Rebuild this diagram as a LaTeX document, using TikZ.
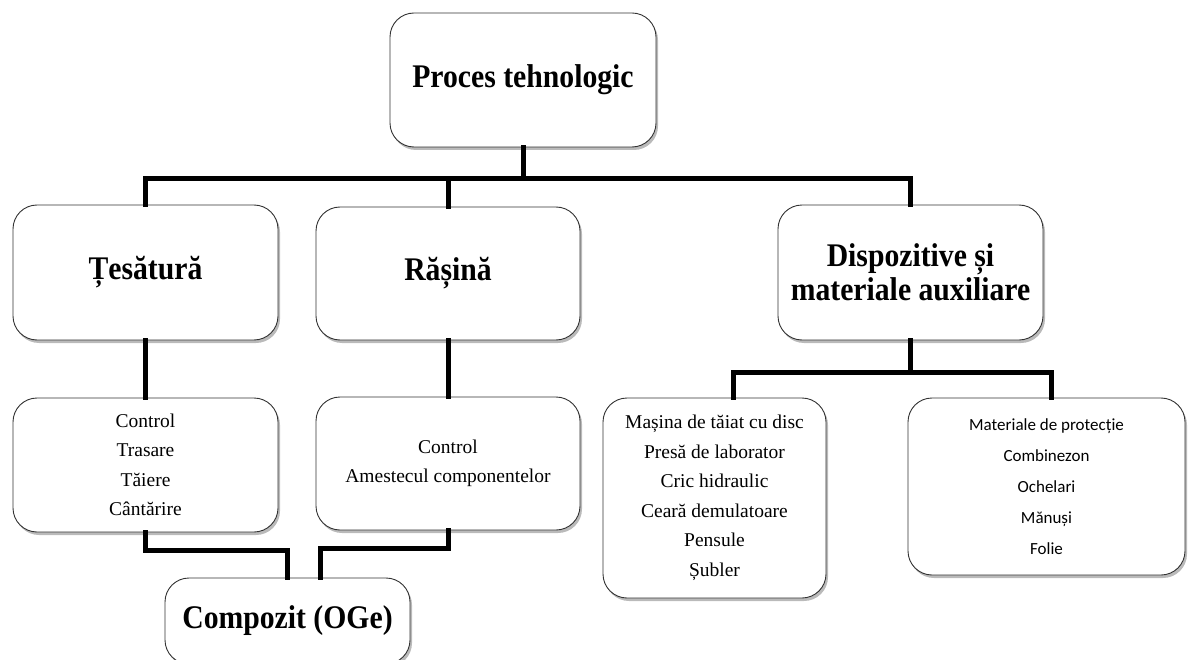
\documentclass[tikz,border=0pt]{standalone}
\usepackage{fontspec}
\setmainfont{Liberation Serif}
\newfontfamily\headfont[FakeStretch=0.9]{Liberation Serif}
\newfontfamily\calib{Carlito}
\usetikzlibrary{shadows}
\begin{document}
\begin{tikzpicture}[x=1pt,y=-1pt,
  box/.style={draw=black!80, line width=0.9pt, rounded corners=24pt, fill=white, align=center,
    drop shadow={shadow xshift=2pt, shadow yshift=-3pt, opacity=0.45, fill=black!60}},
  head/.style={box, font=\headfont\fontsize{33}{34}\selectfont\bfseries},
  body/.style={box, font=\fontsize{19.5}{29.5}\selectfont},
  conn/.style={line width=5pt, line cap=rect}]
\useasboundingbox (0,0) rectangle (1190,660);
\node[head, minimum width=266pt, minimum height=134pt] (proc) at (523,80) {Proces tehnologic};
\node[head, minimum width=265pt, minimum height=135pt] (tes) at (145.5,272.5) {Țesătură};
\node[head, minimum width=264pt, minimum height=133pt] (ras) at (448,273.5) {Rășină};
\node[head, minimum width=265pt, minimum height=135pt] (disp) at (910.5,272.5) {Dispozitive și\\materiale auxiliare};
\node[body, minimum width=265pt, minimum height=134pt] (c1) at (145.5,465) {Control\\Trasare\\Tăiere\\Cântărire};
\node[body, minimum width=264pt, minimum height=133pt] (c2) at (448,463.5) {Control\\Amestecul componentelor};
\node[body, minimum width=223pt, minimum height=200pt] (mas) at (714.5,498) {Mașina de tăiat cu disc\\Presă de laborator\\Cric hidraulic\\Ceară demulatoare\\Pensule\\Șubler};
\node[box, font=\calib\fontsize{17}{31}\selectfont, minimum width=277pt, minimum height=177pt] (mat) at (1046.5,486.5) {Materiale de protecție\\Combinezon\\Ochelari\\Mănuși\\Folie};
\node[head, minimum width=245pt, minimum height=86pt] (comp) at (287.5,621) {Compozit (OGe)};
% connectors
\draw[conn] (proc.south) -- ++(0,31) coordinate (bar);
\draw[conn] (tes.north) |- (bar) -| (disp.north);
\draw[conn] (ras.north) -- (ras.north |- bar);
\draw[conn] (tes.south) -- (c1.north);
\draw[conn] (ras.south) -- (c2.north);
\draw[conn] (disp.south) -- ++(0,32) coordinate (bar2);
\draw[conn] ([xshift=18.5pt]mas.north) |- (bar2) -| ([xshift=4.5pt]mat.north);
\draw[conn] (c1.south) -- ++(0,18) -| ([xshift=-0.5pt]comp.north);
\draw[conn] (c2.south) -- ++(0,18) -| ([xshift=32.5pt]comp.north);
\end{tikzpicture}
\end{document}
